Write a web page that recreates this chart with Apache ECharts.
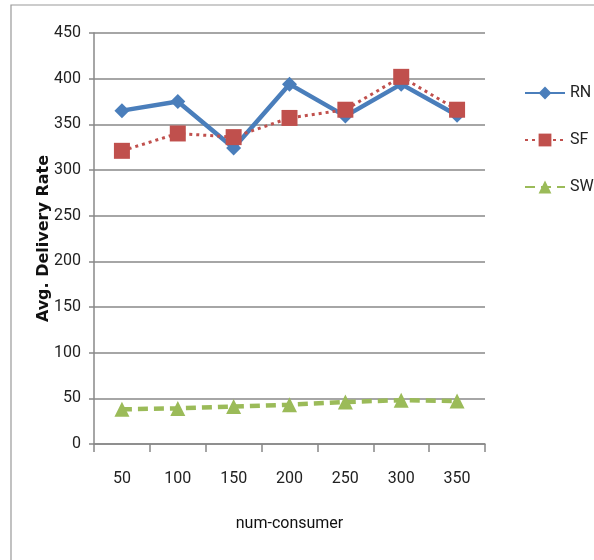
<!DOCTYPE html>
<html><head><meta charset="utf-8">
<script src="https://cdn.jsdelivr.net/npm/echarts@6/dist/echarts.min.js"></script>
<style>html,body{margin:0;padding:0;background:#fff}#c{width:594px;height:560px}</style>
</head><body><div id="c"></div>
<script>
const categories = ['50','100','150','200','250','300','350'];
const rn = [365, 375, 324, 394, 359, 394, 360];
const sf = [321, 340, 336, 357, 366, 402, 366];
const sw = [38, 39, 41, 43, 46, 48, 47];
const yTicks = {min: 0, max: 450, interval: 50};

const chart = echarts.init(document.getElementById('c'));
const font = 'Roboto, "Open Sans", sans-serif';
chart.setOption({
  animation: false,
  backgroundColor: '#fff',
  graphic: [{type: 'rect', shape: {x: 11, y: 5, width: 620, height: 620}, style: {fill: 'none', stroke: '#999', lineWidth: 1.2}}],
  grid: {left: 94, right: 109, top: 33, bottom: 116},
  legend: {
    orient: 'vertical', left: 519, top: 80, itemGap: 31, itemWidth: 40, itemHeight: 16,
    textStyle: {fontFamily: font, fontSize: 16, color: '#222'},
    data: ['RN', 'SF', 'SW']
  },
  xAxis: {
    type: 'category', data: categories, boundaryGap: true,
    name: 'num-consumer', nameLocation: 'middle', nameGap: 72,
    nameTextStyle: {fontFamily: font, fontSize: 16, color: '#111'},
    axisLine: {lineStyle: {color: '#888', width: 1.5}},
    axisTick: {show: true, alignWithLabel: false, length: 8, lineStyle: {color: '#888', width: 1.5}},
    axisLabel: {fontFamily: font, fontSize: 16, color: '#222', margin: 27}
  },
  yAxis: {
    type: 'value', min: yTicks.min, max: yTicks.max, interval: yTicks.interval,
    name: 'Avg. Delivery Rate', nameLocation: 'middle', nameGap: 42, nameRotate: 90,
    nameMoveOverlap: false,
    nameTextStyle: {fontFamily: '"DejaVu Sans", sans-serif', fontSize: 16, fontWeight: 'bold', color: '#111'},
    axisLine: {show: true, lineStyle: {color: '#888', width: 1.5}},
    axisTick: {show: true, length: 5, lineStyle: {color: '#888', width: 1.5}},
    axisLabel: {fontFamily: font, fontSize: 16, color: '#222', margin: 13},
    splitLine: {lineStyle: {color: '#888', width: 1.6}}
  },
  series: [
    {name: 'RN', type: 'line', data: rn, symbol: 'diamond', symbolSize: 15,
     itemStyle: {color: '#4a7ebb'}, lineStyle: {color: '#4a7ebb', width: 4.5}},
    {name: 'SF', type: 'line', data: sf, symbol: 'rect', symbolSize: 16,
     itemStyle: {color: '#c0504d'}, lineStyle: {color: '#c0504d', width: 3, type: [3, 4]}},
    {name: 'SW', type: 'line', data: sw, symbol: 'triangle', symbolSize: 15,
     itemStyle: {color: '#9bbb59'}, lineStyle: {color: '#9bbb59', width: 4.5, type: [10, 6]}}
  ]
});
</script></body></html>
